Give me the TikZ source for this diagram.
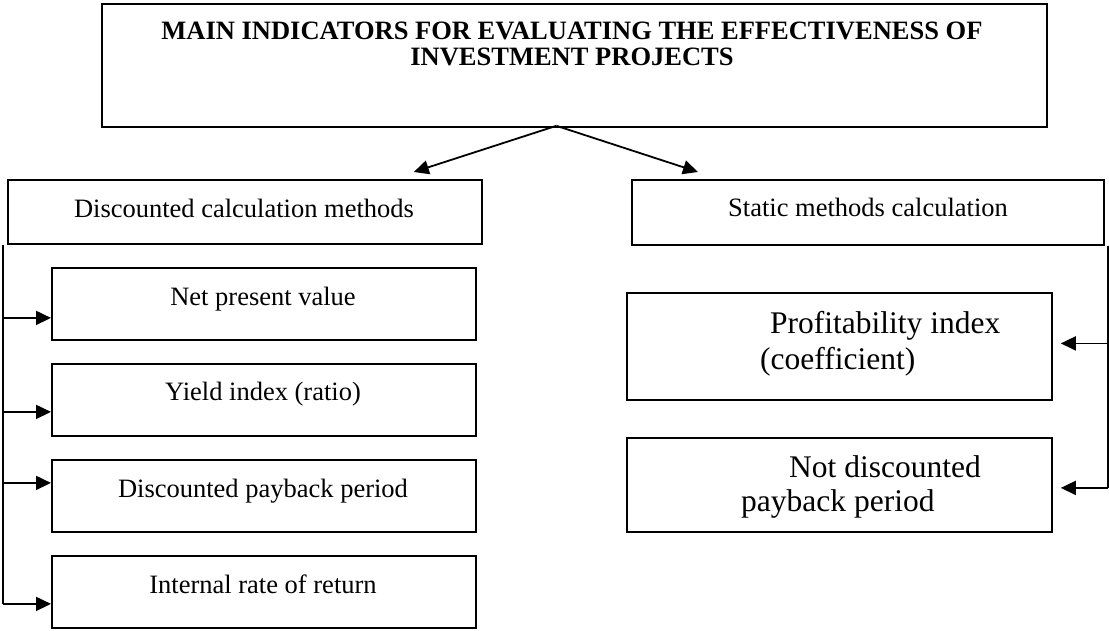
\documentclass[tikz,border=0pt]{standalone}
\usepackage{fontspec}
\setmainfont{Liberation Serif}
\usetikzlibrary{arrows.meta}
\begin{document}
\begin{tikzpicture}[x=1pt,y=-1pt,
  box/.style={draw, line width=1.8pt, rectangle, anchor=north west, inner sep=0pt},
  wire/.style={line width=1.8pt},
  arr/.style={line width=1.8pt, -{Triangle[length=15pt,width=14pt]}},
  ttl/.style={font=\fontsize{26.5}{30}\selectfont\bfseries, anchor=base, inner sep=0pt},
  lbl/.style={font=\fontsize{26.5}{30}\selectfont, anchor=base, inner sep=0pt},
  big/.style={font=\fontsize{31.5}{36}\selectfont, anchor=base west, inner sep=0pt}]
\useasboundingbox (0,0) rectangle (1109,630);
\fill[white] (0,0) rectangle (1109,630);

% boxes
\node[box, minimum width=945pt, minimum height=123pt] (top) at (101,3) {};
\node[box, minimum width=474pt, minimum height=64pt] (disc) at (7,179) {};
\node[box, minimum width=472pt, minimum height=65pt] (stat) at (631,179) {};
\node[box, minimum width=424pt, minimum height=72pt] (npv) at (51,267) {};
\node[box, minimum width=424pt, minimum height=72pt] (yld) at (51,363) {};
\node[box, minimum width=424pt, minimum height=72pt] (dpp) at (51,459) {};
\node[box, minimum width=424pt, minimum height=72pt] (irr) at (51,555) {};
\node[box, minimum width=425pt, minimum height=107pt] (prof) at (626,292) {};
\node[box, minimum width=425pt, minimum height=94pt] (nd) at (626,437) {};

% texts
\node[ttl] (t1) at (572,39) {MAIN INDICATORS FOR EVALUATING THE EFFECTIVENESS OF};
\node[ttl] (t2) at (572,65) {INVESTMENT PROJECTS};
\node[lbl] (discT) at (244,217) {Discounted calculation methods};
\node[lbl] (statT) at (868,216) {Static methods calculation};
\node[lbl] (npvT) at (263,305) {Net present value};
\node[lbl] (yldT) at (263,400) {Yield index (ratio)};
\node[lbl] (dppT) at (263,497) {Discounted payback period};
\node[lbl] (irrT) at (263,593) {Internal rate of return};
\node[big] (profT1) at (770,333) {Profitability index};
\node[big] (profT2) at (760,369) {(coefficient)};
\node[big] (ndT1) at (789,477) {Not discounted};
\node[big] (ndT2) at (741,511) {payback period};

% top arrows
\coordinate (apex) at ([xshift=-18pt,yshift=2pt]top.south);
\draw[arr] (apex) -- ([xshift=-69pt,yshift=7pt]disc.north east);
\draw[arr] (apex) -- ([xshift=67pt,yshift=7pt]stat.north west);

% left bus
\coordinate (ltop) at ([xshift=-4pt]disc.south west);
\coordinate (npvA) at ([yshift=-14pt]npv.west);
\coordinate (yldA) at ([yshift=-12pt]yld.west);
\coordinate (dppA) at ([yshift=13pt]dpp.west);
\coordinate (irrA) at ([yshift=-12pt]irr.west);
\draw[wire] (ltop) -- (ltop |- irrA);
\draw[arr] (ltop |- npvA) -- (npvA);
\draw[arr] (ltop |- yldA) -- (yldA);
\draw[arr] (ltop |- dppA) -- (dppA);
\draw[arr] (ltop |- irrA) -- (irrA);

% right bus
\coordinate (rtop) at ([xshift=3pt]stat.south east);
\coordinate (profA) at ([xshift=8pt,yshift=3pt]prof.east);
\coordinate (ndA) at ([xshift=8pt,yshift=-3pt]nd.east);
\draw[wire] (rtop) -- (rtop |- ndA);
\draw[arr] (rtop |- profA) -- (profA);
\draw[arr] (rtop |- ndA) -- (ndA);
\end{tikzpicture}
\end{document}
